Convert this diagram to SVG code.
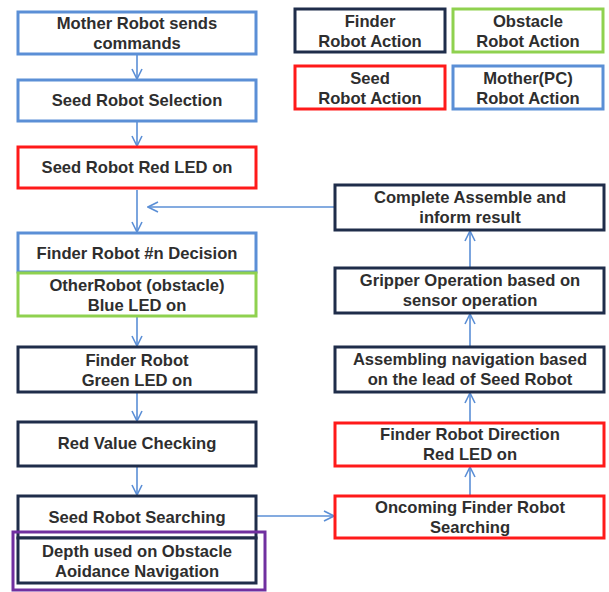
<svg xmlns="http://www.w3.org/2000/svg" width="609" height="592" viewBox="0 0 609 592">
<defs>
<marker id="arr" viewBox="0 0 12 12" refX="11" refY="6" markerWidth="12" markerHeight="12" markerUnits="userSpaceOnUse" orient="auto">
<path d="M1,1 L11,6 L1,11" fill="none" stroke="#5b8fd6" stroke-width="1.6"/>
</marker>
<style>
.b{fill:#fff;stroke-width:3}
.blue{stroke:#5b8fd6}
.red{stroke:#ff1a1a}
.navy{stroke:#1f2d4a}
.green{stroke:#8fd14f}
.purple{fill:none;stroke:#7030a0;stroke-width:3}
text{font-family:"Liberation Sans",Arial,sans-serif;font-weight:bold;font-size:16.6px;fill:#2e2e2e;text-anchor:middle}
.c line{stroke:#5b8fd6;stroke-width:1.6;marker-end:url(#arr)}
</style>
</defs>
<rect width="609" height="592" fill="#fff"/>
<g class="c" id="connectors">
<line x1="137" y1="55" x2="137" y2="79"/>
<line x1="137" y1="122" x2="137" y2="146"/>
<line x1="137" y1="190" x2="137" y2="232"/>
<line x1="335" y1="207" x2="148" y2="207"/>
<line x1="137" y1="317" x2="137" y2="346"/>
<line x1="137" y1="393" x2="137" y2="421"/>
<line x1="137" y1="467" x2="137" y2="495"/>
<line x1="257" y1="516" x2="334" y2="516"/>
<line x1="470" y1="496" x2="470" y2="467"/>
<line x1="470" y1="422" x2="470" y2="393"/>
<line x1="470" y1="346" x2="470" y2="314"/>
<line x1="470" y1="267" x2="470" y2="231"/>
</g>
<g id="legend-finder"><rect class="b navy" x="295" y="9" width="150" height="43"/><text x="370" y="27">Finder</text><text x="370" y="47">Robot Action</text></g>
<g id="legend-obstacle"><rect class="b green" x="453" y="9" width="150" height="43"/><text x="528" y="27">Obstacle</text><text x="528" y="47">Robot Action</text></g>
<g id="legend-seed"><rect class="b red" x="295" y="66" width="150" height="43"/><text x="370" y="84">Seed</text><text x="370" y="104">Robot Action</text></g>
<g id="legend-mother"><rect class="b blue" x="453" y="66" width="150" height="43"/><text x="528" y="84">Mother(PC)</text><text x="528" y="104">Robot Action</text></g>
<g id="n1"><rect class="b blue" x="18" y="12" width="238" height="42"/><text x="137" y="29">Mother Robot sends</text><text x="137" y="49">commands</text></g>
<g id="n2"><rect class="b blue" x="18" y="80" width="238" height="41"/><text x="137" y="106">Seed Robot Selection</text></g>
<g id="n3"><rect class="b red" x="18" y="147" width="238" height="41"/><text x="137" y="173">Seed Robot Red LED on</text></g>
<g id="n4"><rect class="b blue" x="18" y="233" width="238" height="39"/><text x="137" y="259">Finder Robot #n Decision</text></g>
<g id="n5"><rect class="b green" x="18" y="273" width="238" height="43"/><text x="137" y="291">OtherRobot (obstacle)</text><text x="137" y="311">Blue LED on</text></g>
<g id="n6"><rect class="b navy" x="18" y="347" width="238" height="45"/><text x="137" y="366">Finder Robot</text><text x="137" y="386">Green LED on</text></g>
<g id="n7"><rect class="b navy" x="18" y="422" width="238" height="44"/><text x="137" y="449">Red Value Checking</text></g>
<g id="n8"><rect class="b navy" x="18" y="496" width="238" height="42"/><text x="137" y="523">Seed Robot Searching</text></g>
<g id="n9"><rect class="b navy" x="18" y="538" width="238" height="45"/><text x="137" y="557">Depth used on Obstacle</text><text x="137" y="577">Aoidance Navigation</text><rect class="purple" x="13" y="532" width="252" height="58"/></g>
<g id="r1"><rect class="b navy" x="335" y="185" width="269" height="45"/><text x="470" y="203">Complete Assemble and</text><text x="470" y="223">inform result</text></g>
<g id="r2"><rect class="b navy" x="335" y="268" width="269" height="45"/><text x="470" y="286">Gripper Operation based on</text><text x="470" y="306">sensor operation</text></g>
<g id="r3"><rect class="b navy" x="335" y="347" width="269" height="45"/><text x="470" y="365">Assembling navigation based</text><text x="470" y="385">on the lead of Seed Robot</text></g>
<g id="r4"><rect class="b red" x="335" y="423" width="269" height="43"/><text x="470" y="440">Finder Robot Direction</text><text x="470" y="460">Red LED on</text></g>
<g id="r5"><rect class="b red" x="335" y="496" width="269" height="42"/><text x="470" y="513">Oncoming Finder Robot</text><text x="470" y="533">Searching</text></g>
</svg>
